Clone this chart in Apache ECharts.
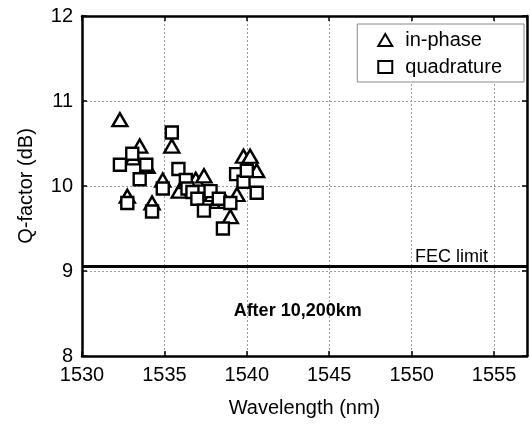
<!DOCTYPE html>
<html>
<head>
<meta charset="utf-8">
<script src="https://cdn.jsdelivr.net/npm/echarts@6/dist/echarts.min.js"></script>
<style>html,body{margin:0;padding:0;background:#fff}#c{width:530px;height:426px}</style>
</head>
<body>
<div id="c"></div>
<script>
const inPhase = [
  [1532.3, 10.78], [1532.75, 9.88], [1533.1, 10.33], [1533.5, 10.47], [1533.95, 10.23],
  [1534.25, 9.80], [1534.9, 10.07], [1535.45, 10.47], [1535.9, 9.94], [1536.25, 10.05],
  [1536.9, 10.08], [1537.4, 10.12], [1537.9, 9.90], [1538.2, 9.82], [1538.7, 9.82],
  [1539.0, 9.64], [1539.4, 9.90], [1539.8, 10.35], [1540.2, 10.35], [1540.6, 10.18]
];
const quadrature = [
  [1532.3, 10.25], [1532.75, 9.80], [1533.05, 10.38], [1533.5, 10.08], [1533.9, 10.25],
  [1534.25, 9.70], [1534.9, 9.97], [1535.45, 10.63], [1535.85, 10.20], [1536.3, 10.07],
  [1536.4, 9.97], [1536.7, 9.93], [1537.0, 9.85], [1537.4, 9.71], [1537.8, 9.94],
  [1538.3, 9.85], [1538.55, 9.50], [1539.0, 9.80], [1539.35, 10.14], [1539.8, 10.05],
  [1540.0, 10.18], [1540.6, 9.92]
];
const fecLimit = 9.05;
const xRange = [1530, 1557];
const yRange = [8, 12];
const fecLabel = 'FEC limit';
const fecLabelPos = [1550.2, 9.17];
const noteText = 'After 10,200km';
const notePos = [1539.2, 8.53];

const FONT = 'Liberation Sans, Arial, sans-serif';
const chart = echarts.init(document.getElementById('c'), null, {renderer: 'canvas'});
const axisLineStyle = {color: '#000', width: 2.5};
const split = {show: true, lineStyle: {color: '#9a9a9a', type: [2, 2], width: 1, opacity: 1}};
const plain = v => String(Math.round(v));
const option = {
  animation: false,
  backgroundColor: '#fff',
  grid: {left: 82, right: 3, top: 16, bottom: 70, show: false},
  legend: {
    show: true, orient: 'vertical', right: 6, top: 24,
    backgroundColor: '#fff', borderColor: '#888', borderWidth: 1,
    padding: [6, 22, 5, 20], itemGap: 7, itemWidth: 14, itemHeight: 12,
    textStyle: {fontFamily: FONT, fontSize: 20, color: '#000', padding: [0, 0, 0, 8]},
    data: ['in-phase', 'quadrature']
  },
  xAxis: [{
    type: 'value', min: xRange[0], max: xRange[1], interval: 5,
    name: 'Wavelength (nm)', nameLocation: 'middle', nameGap: 42,
    nameTextStyle: {fontFamily: FONT, fontSize: 20, color: '#000'},
    axisLine: {show: true, onZero: false, lineStyle: axisLineStyle},
    axisTick: {show: true, inside: true, length: 5, lineStyle: {color: '#000', width: 1.5}},
    axisLabel: {fontFamily: FONT, fontSize: 20, color: '#000', margin: 9, showMaxLabel: false, formatter: plain},
    splitLine: split
  }, {
    type: 'value', position: 'top', min: xRange[0], max: xRange[1], interval: 5,
    axisLine: {show: true, onZero: false, lineStyle: axisLineStyle},
    axisTick: {show: true, inside: true, length: 5, lineStyle: {color: '#000', width: 1.5}},
    axisLabel: {show: false}, splitLine: split
  }],
  yAxis: [{
    type: 'value', min: yRange[0], max: yRange[1], interval: 1,
    name: 'Q-factor (dB)', nameLocation: 'middle', nameGap: 46,
    nameTextStyle: {fontFamily: FONT, fontSize: 20, color: '#000'},
    axisLine: {show: true, onZero: false, lineStyle: axisLineStyle},
    axisTick: {show: true, inside: true, length: 5, lineStyle: {color: '#000', width: 1.5}},
    axisLabel: {fontFamily: FONT, fontSize: 20, color: '#000', margin: 9, formatter: plain},
    splitLine: split
  }, {
    type: 'value', position: 'right', min: yRange[0], max: yRange[1], interval: 1,
    axisLine: {show: true, onZero: false, lineStyle: axisLineStyle},
    axisTick: {show: true, inside: true, length: 5, lineStyle: {color: '#000', width: 1.5}},
    axisLabel: {show: false}, splitLine: split
  }],
  series: [{
    name: 'in-phase', type: 'scatter', data: inPhase,
    symbol: 'triangle', symbolSize: [15, 13],
    itemStyle: {color: '#fff', borderColor: '#000', borderWidth: 2.4, opacity: 1},
    z: 3,
    markLine: {
      silent: true, symbol: 'none', animation: false,
      lineStyle: {color: '#000', width: 3, type: 'solid'},
      label: {show: false},
      data: [{yAxis: fecLimit}]
    }
  }, {
    name: 'quadrature', type: 'scatter', data: quadrature,
    symbol: 'rect', symbolSize: 12,
    itemStyle: {color: '#fff', borderColor: '#000', borderWidth: 2.4, opacity: 1},
    z: 4
  }]
};
chart.setOption(option);
const p1 = chart.convertToPixel({xAxisIndex: 0, yAxisIndex: 0}, fecLabelPos);
const p2 = chart.convertToPixel({xAxisIndex: 0, yAxisIndex: 0}, notePos);
chart.setOption({
  graphic: [
    {type: 'text', x: p1[0], y: p1[1], style: {text: fecLabel, font: '18px ' + FONT, fill: '#000', textVerticalAlign: 'middle'}},
    {type: 'text', x: p2[0], y: p2[1], style: {text: noteText, font: 'bold 18px ' + FONT, fill: '#000', textVerticalAlign: 'middle'}}
  ]
});
</script>
</body>
</html>
